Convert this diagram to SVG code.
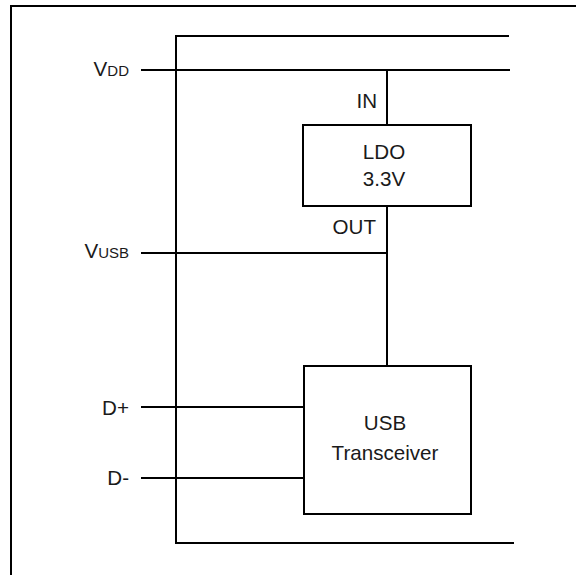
<svg xmlns="http://www.w3.org/2000/svg" width="576" height="575" viewBox="0 0 576 575">
<style>
.w{fill:none;stroke:#000;stroke-width:2}
.b{fill:#fff;stroke:#000;stroke-width:2}
text{font-family:"Liberation Sans",Arial,sans-serif;font-size:20.6px;fill:#1a1a1a}
.m{text-anchor:middle}
.e{text-anchor:end}
.s{font-size:15px}
</style>
<rect width="576" height="575" fill="#fff"/>
<path class="w" d="M11,576 V6 H577" stroke-width="2.2"/>
<g id="connectors">
<path class="w" d="M509,36 H176 V543 H514"/>
<path class="w" d="M141,70 H510"/>
<path class="w" d="M387,70 V125"/>
<path class="w" d="M387,206 V366"/>
<path class="w" d="M141,253 H387"/>
<path class="w" d="M141,407 H304"/>
<path class="w" d="M141,478 H304"/>
</g>
<g id="vdd"><text class="e" x="129" y="76">V<tspan class="s">DD</tspan></text></g>
<g id="vusb"><text class="e" x="129" y="258">V<tspan class="s">USB</tspan></text></g>
<g id="dplus"><text class="e" x="129" y="415">D+</text></g>
<g id="dminus"><text class="e" x="129" y="485">D-</text></g>
<g id="in"><text class="e" x="377" y="108">IN</text></g>
<g id="out"><text class="e" x="376" y="234">OUT</text></g>
<g id="ldo">
<rect class="b" x="303" y="125" width="168" height="81"/>
<text class="m" x="384" y="159">LDO</text>
<text class="m" x="384" y="186">3.3V</text>
</g>
<g id="transceiver">
<rect class="b" x="304" y="366" width="167" height="148"/>
<text class="m" x="385" y="430">USB</text>
<text class="m" x="385" y="460">Transceiver</text>
</g>
</svg>
